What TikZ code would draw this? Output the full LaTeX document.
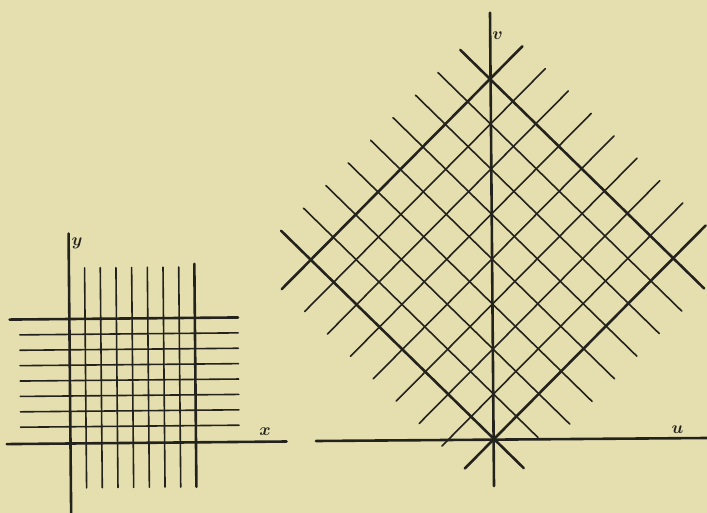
\documentclass[tikz,border=0pt]{standalone}
\definecolor{paper}{RGB}{229,223,176}
\definecolor{ink}{RGB}{36,34,28}
\begin{document}
\begin{tikzpicture}[x=1pt,y=-1pt,
  gridline/.style={ink, line width=1.6pt, line cap=round},
  heavyline/.style={ink, line width=2.6pt, line cap=round},
  lbl/.style={font=\fontsize{17.28}{20}\selectfont\boldmath, anchor=base, inner sep=0pt, text=ink}]
\fill[paper] (0,0) rectangle (707,513);
\useasboundingbox (0,0) rectangle (707,513);

% ---------- left: the x,y grid ----------
\begin{scope}[shift={(70.5pt,-443.5pt)}, rotate=0.53]
  \coordinate (xa1) at (-63.8,0);  \coordinate (xa2) at (216,0);
  \coordinate (ya1) at (0,70);     \coordinate (ya2) at (0,-210);
  \draw[heavyline] (xa1) -- (xa2);
  \draw[heavyline] (ya1) -- (ya2);
  \foreach \k in {1,...,7}{
    \draw[gridline] ({15.69*\k},44.5) -- ({15.69*\k},-175.5);
    \draw[gridline] (-49.8,{-(16.75+15.39*(\k-1))}) -- (168.8,{-(16.75+15.39*(\k-1))});
  }
  \draw[heavyline] (125.5,44.5) -- (125.5,-178.5);
  \draw[heavyline] (-59.8,-124.5) -- (168.8,-124.5);
\end{scope}
\node[lbl] (ly) at (77,246) {$y$};
\node[lbl] (lx) at (265,435) {$x$};

% ---------- right: the u,v grid ----------
\coordinate (v1) at (490,12.7); \coordinate (v2) at (494,486);
\coordinate (u1) at (316,441);  \coordinate (u2) at (707,438);
\begin{scope}[shift={(494pt,-439pt)}, x={(22.4pt,22.6pt)}, y={(-22.9pt,22.4pt)}]
  \foreach \k in {1,...,7}{
    \draw[gridline] (-1.3,\k) -- (9.45,\k);
  }
  \foreach \k in {2,...,7}{
    \draw[gridline] (\k,-1.35) -- (\k,9.3);
  }
  \draw[gridline] (1,-0.95) -- (1,9.3);
  \draw[heavyline] (-1.3,0) -- (9.45,0);
  \draw[heavyline] (-1.3,8) -- (9.45,8);
  \draw[heavyline] (0,-1.3) -- (0,9.3);
  \draw[heavyline] (8,-1.35) -- (8,9.3);
\end{scope}
\draw[heavyline] (v1) -- (v2);
\draw[heavyline] (u1) -- (u2);
\node[lbl] (lv) at (497.7,39.3) {$v$};
\node[lbl] (lu) at (677.5,433.3) {$u$};
\end{tikzpicture}
\end{document}
